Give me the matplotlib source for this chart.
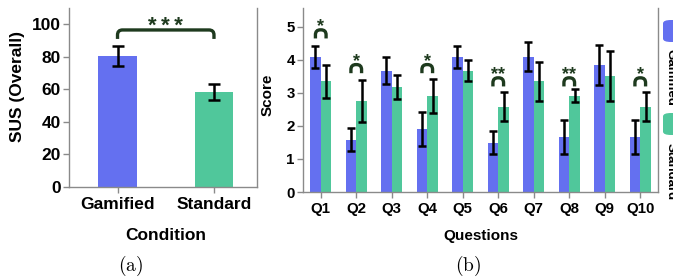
import numpy as np
import matplotlib
matplotlib.use('Agg')
import matplotlib.pyplot as plt
from matplotlib.path import Path
from matplotlib.patches import PathPatch, FancyBboxPatch

# data
conditions = ['Gamified', 'Standard']
sus_mean = [80.5, 58.5]
sus_err = [6.0, 5.0]

questions = ['Q1', 'Q2', 'Q3', 'Q4', 'Q5', 'Q6', 'Q7', 'Q8', 'Q9', 'Q10']
gam_mean = [4.09, 1.58, 3.67, 1.91, 4.09, 1.49, 4.09, 1.67, 3.84, 1.67]
gam_err = [0.33, 0.34, 0.42, 0.51, 0.33, 0.35, 0.43, 0.51, 0.61, 0.51]
std_mean = [3.34, 2.75, 3.17, 2.91, 3.67, 2.58, 3.34, 2.91, 3.51, 2.58]
std_err = [0.50, 0.62, 0.36, 0.51, 0.32, 0.44, 0.58, 0.19, 0.75, 0.44]

# significance: question index, stars, bracket top
sig_idx = [0, 1, 3, 5, 7, 9]
sig_stars = ['*', '*', '*', '**', '**', '*']
sig_top = [4.90, 3.85, 3.85, 3.45, 3.45, 3.45]

BLUE = '#6470F0'
GREEN = '#50C79B'
DARK = '#1E3A1E'
AXC = '#8a8a8a'

W, H = 673, 280
fig = plt.figure(figsize=(W / 100, H / 100), dpi=100)
plt.rcParams['font.family'] = ['Liberation Sans', 'DejaVu Sans']
plt.rcParams['mathtext.fontset'] = 'cm'


def px_axes(l, r, t, b):
    return fig.add_axes([l / W, 1 - b / H, (r - l) / W, (b - t) / H])


def style(ax, tsize):
    ax.spines['top'].set_visible(False)
    for s in ['left', 'bottom', 'right']:
        ax.spines[s].set_color(AXC)
        ax.spines[s].set_linewidth(1)
    ax.tick_params(axis='both', colors=AXC, length=4, width=1, pad=2)
    for lbl in ax.get_xticklabels() + ax.get_yticklabels():
        lbl.set_color('black')
        lbl.set_fontweight('bold')
        lbl.set_fontsize(tsize)


def bracket(ax, x0, x1, ytop, ybot, r_px, lw):
    p0 = ax.transData.transform((0, 0))
    p1 = ax.transData.transform((1, 1))
    dx = r_px / (p1[0] - p0[0])
    dy = r_px / (p1[1] - p0[1])
    verts = [(x0, ybot), (x0, ytop - dy), (x0, ytop), (x0 + dx, ytop),
             (x1 - dx, ytop), (x1, ytop), (x1, ytop - dy), (x1, ybot)]
    codes = [Path.MOVETO, Path.LINETO, Path.CURVE3, Path.CURVE3,
             Path.LINETO, Path.CURVE3, Path.CURVE3, Path.LINETO]
    ax.add_patch(PathPatch(Path(verts, codes), fill=False, edgecolor=DARK,
                           lw=lw, capstyle='butt', clip_on=False))


# (a) SUS overall
ax1 = px_axes(69, 257, 8, 187)
x1 = np.arange(len(conditions))
ax1.bar(x1, sus_mean, width=0.4, color=[BLUE, GREEN], zorder=2)
ax1.errorbar(x1, sus_mean, yerr=sus_err, fmt='none', ecolor='black',
             elinewidth=1.8, capsize=4, capthick=1.8, zorder=3)
ax1.set_xlim(-0.503, 1.446)
ax1.set_ylim(0, 110)
ax1.set_yticks([0, 20, 40, 60, 80, 100])
ax1.set_xticks(x1)
ax1.set_xticklabels(conditions)
style(ax1, 12.5)
ax1.tick_params(axis='x', pad=3)
bracket(ax1, 0, 1, 96.5, 91.0, 5, 2.4)
ax1.text(0.5, 95.5, '*\u2009*\u2009*', ha='center', va='baseline', fontsize=16,
         fontweight='bold', color=DARK)
fig.text(166 / W, 1 - 235 / H, 'Condition', ha='center', va='center',
         fontsize=12.5, fontweight='bold')
fig.text(18 / W, 1 - 87 / H, 'SUS (Overall)', ha='center', va='center',
         rotation=90, fontsize=12.5, fontweight='bold')

# (b) per question
ax2 = px_axes(303, 658, 8, 192)
x2 = np.arange(len(questions))
ax2.bar(x2 - 0.15, gam_mean, width=0.3, color=BLUE, zorder=2)
ax2.bar(x2 + 0.15, std_mean, width=0.3, color=GREEN, zorder=2)
ax2.errorbar(x2 - 0.15, gam_mean, yerr=gam_err, fmt='none', ecolor='black',
             elinewidth=1.8, capsize=3, capthick=1.8, zorder=3)
ax2.errorbar(x2 + 0.15, std_mean, yerr=std_err, fmt='none', ecolor='black',
             elinewidth=1.8, capsize=3, capthick=1.8, zorder=3)
ax2.set_xlim(-0.5, 9.5)
ax2.set_ylim(0, 5.56)
ax2.set_yticks([0, 1, 2, 3, 4, 5])
ax2.set_xticks(x2)
ax2.set_xticklabels(questions)
style(ax2, 10.8)
ax2.tick_params(axis='x', pad=3)
for i, s, top in zip(sig_idx, sig_stars, sig_top):
    bracket(ax2, i - 0.15, i + 0.15, top, top - 0.26, 5, 2.4)
    ax2.text(i, top - 0.05, s, ha='center', va='baseline',
             fontsize=13, fontweight='bold', color=DARK)
fig.text(481 / W, 1 - 236 / H, 'Questions', ha='center', va='center',
         fontsize=11, fontweight='bold')
fig.text(268 / W, 1 - 95 / H, 'Score', ha='center', va='center',
         rotation=90, fontsize=11, fontweight='bold')

# legend (cut at the right edge)
for color, label, y0, ty in [(BLUE, 'Gamified', 20, 49), (GREEN, 'Standard', 113, 143)]:
    fig.patches.append(FancyBboxPatch((663 / W, 1 - (y0 + 22) / H), 24 / W, 22 / H,
                                      boxstyle='round,pad=0,rounding_size=0.012',
                                      transform=fig.transFigure, facecolor=color,
                                      edgecolor='none'))
    fig.text(665 / W, 1 - ty / H, label, rotation=270, ha='left', va='top',
             fontsize=9.5, fontweight='bold')

# sub-captions
fig.text(131 / W, 1 - 266 / H, r'$\mathrm{(a)}$', ha='center', va='center', fontsize=14)
fig.text(468 / W, 1 - 266 / H, r'$\mathrm{(b)}$', ha='center', va='center', fontsize=14)

fig.savefig('out.png', dpi=100)
